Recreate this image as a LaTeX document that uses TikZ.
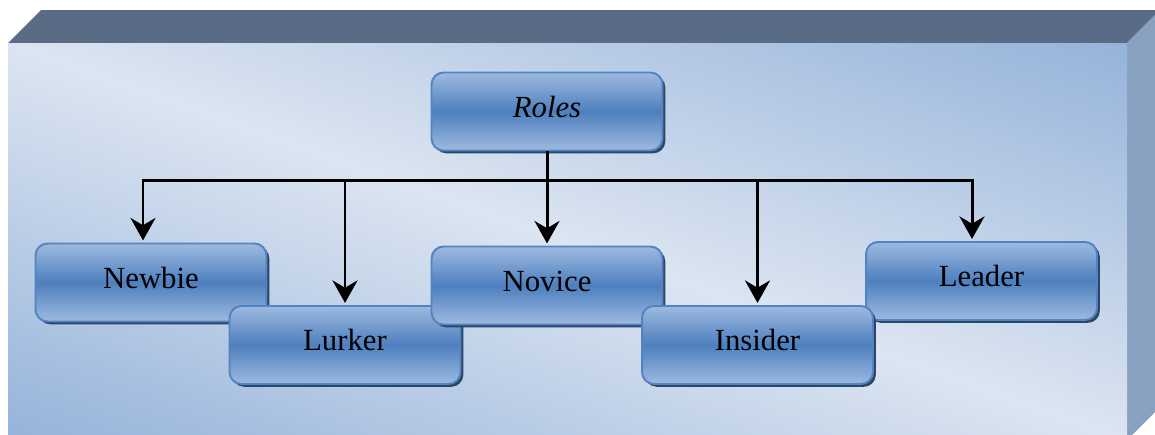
\documentclass[tikz,border=0pt]{standalone}
\usepackage{fontspec}
\setmainfont{Liberation Serif}
\usetikzlibrary{arrows.meta,shadows,calc}

\definecolor{topface}{HTML}{5A6B85}
\definecolor{sideface}{HTML}{88A1C0}
\definecolor{frontlight}{HTML}{DCE5F1}
\definecolor{frontblue}{HTML}{95B3DA}
\definecolor{boxlight}{HTML}{9DBAE0}
\definecolor{boxmid}{HTML}{4E7FBE}
\definecolor{boxedge}{HTML}{5283C2}
\definecolor{boxshadow}{HTML}{2C4668}

\begin{document}
\begin{tikzpicture}[x=0.02cm,y=-0.02cm,
  rolebox/.style={draw=boxedge, line width=1.1pt, rounded corners=0.24cm,
    minimum width=4.62cm, minimum height=1.56cm, inner sep=0pt,
    text height=0.42cm, text depth=0.2cm,
    top color=boxlight, bottom color=boxlight, middle color=boxmid,
    font=\fontsize{17.5}{21}\selectfont,
    drop shadow={shadow xshift=1.6pt, shadow yshift=-1.6pt,
      fill=boxshadow, opacity=1}},
  link/.style={line width=1.7pt, black},
  arrow/.style={link, -{Stealth[length=0.45cm, width=0.5cm]}, shorten >=1.2pt}]

\useasboundingbox (0,0) rectangle (1155,434);
\clip (0,0) rectangle (1155,434);

% the slab behind the chart
\fill[topface] (8,43) -- (41,10) -- (1160,10) -- (1127,43) -- cycle;
\fill[sideface] (1127,43) -- (1160,10) -- (1160,407) -- (1127,440) -- cycle;
\begin{scope}
  \clip (8,43) rectangle (1127,440);
  % light band along the diagonal, blue toward two opposite corners
  \shade[transform canvas={shift={(567.5,241.5)}, rotate=-19.5},
    top color=frontblue, bottom color=frontblue, middle color=frontlight]
    (-700,-374) rectangle (700,374);
\end{scope}

% role boxes
\node[rolebox] (newbie)  at (151,282.5) {Newbie};
\node[rolebox] (leader)  at (981.5,281) {Leader};
\node[rolebox] (lurker)  at (345,345)   {Lurker};
\node[rolebox] (novice)  at (547,285.5) {Novice};
\node[rolebox] (insider) at (757.5,345) {Insider};
\node[rolebox] (roles)   at (547,111.5) {\itshape Roles};

% connectors
\coordinate (bus) at (547,180);
\draw[link] (roles.south) -- (bus);
\draw[arrow] (bus) -| ([xshift=-0.16cm]newbie.north);
\draw[arrow] (bus) -| ([xshift=-0.19cm]leader.north);
\draw[arrow] (roles.south) -- (novice.north);
\draw[arrow] (lurker.north |- bus) -- (lurker.north);
\draw[arrow] (insider.north |- bus) -- (insider.north);
\end{tikzpicture}
\end{document}
